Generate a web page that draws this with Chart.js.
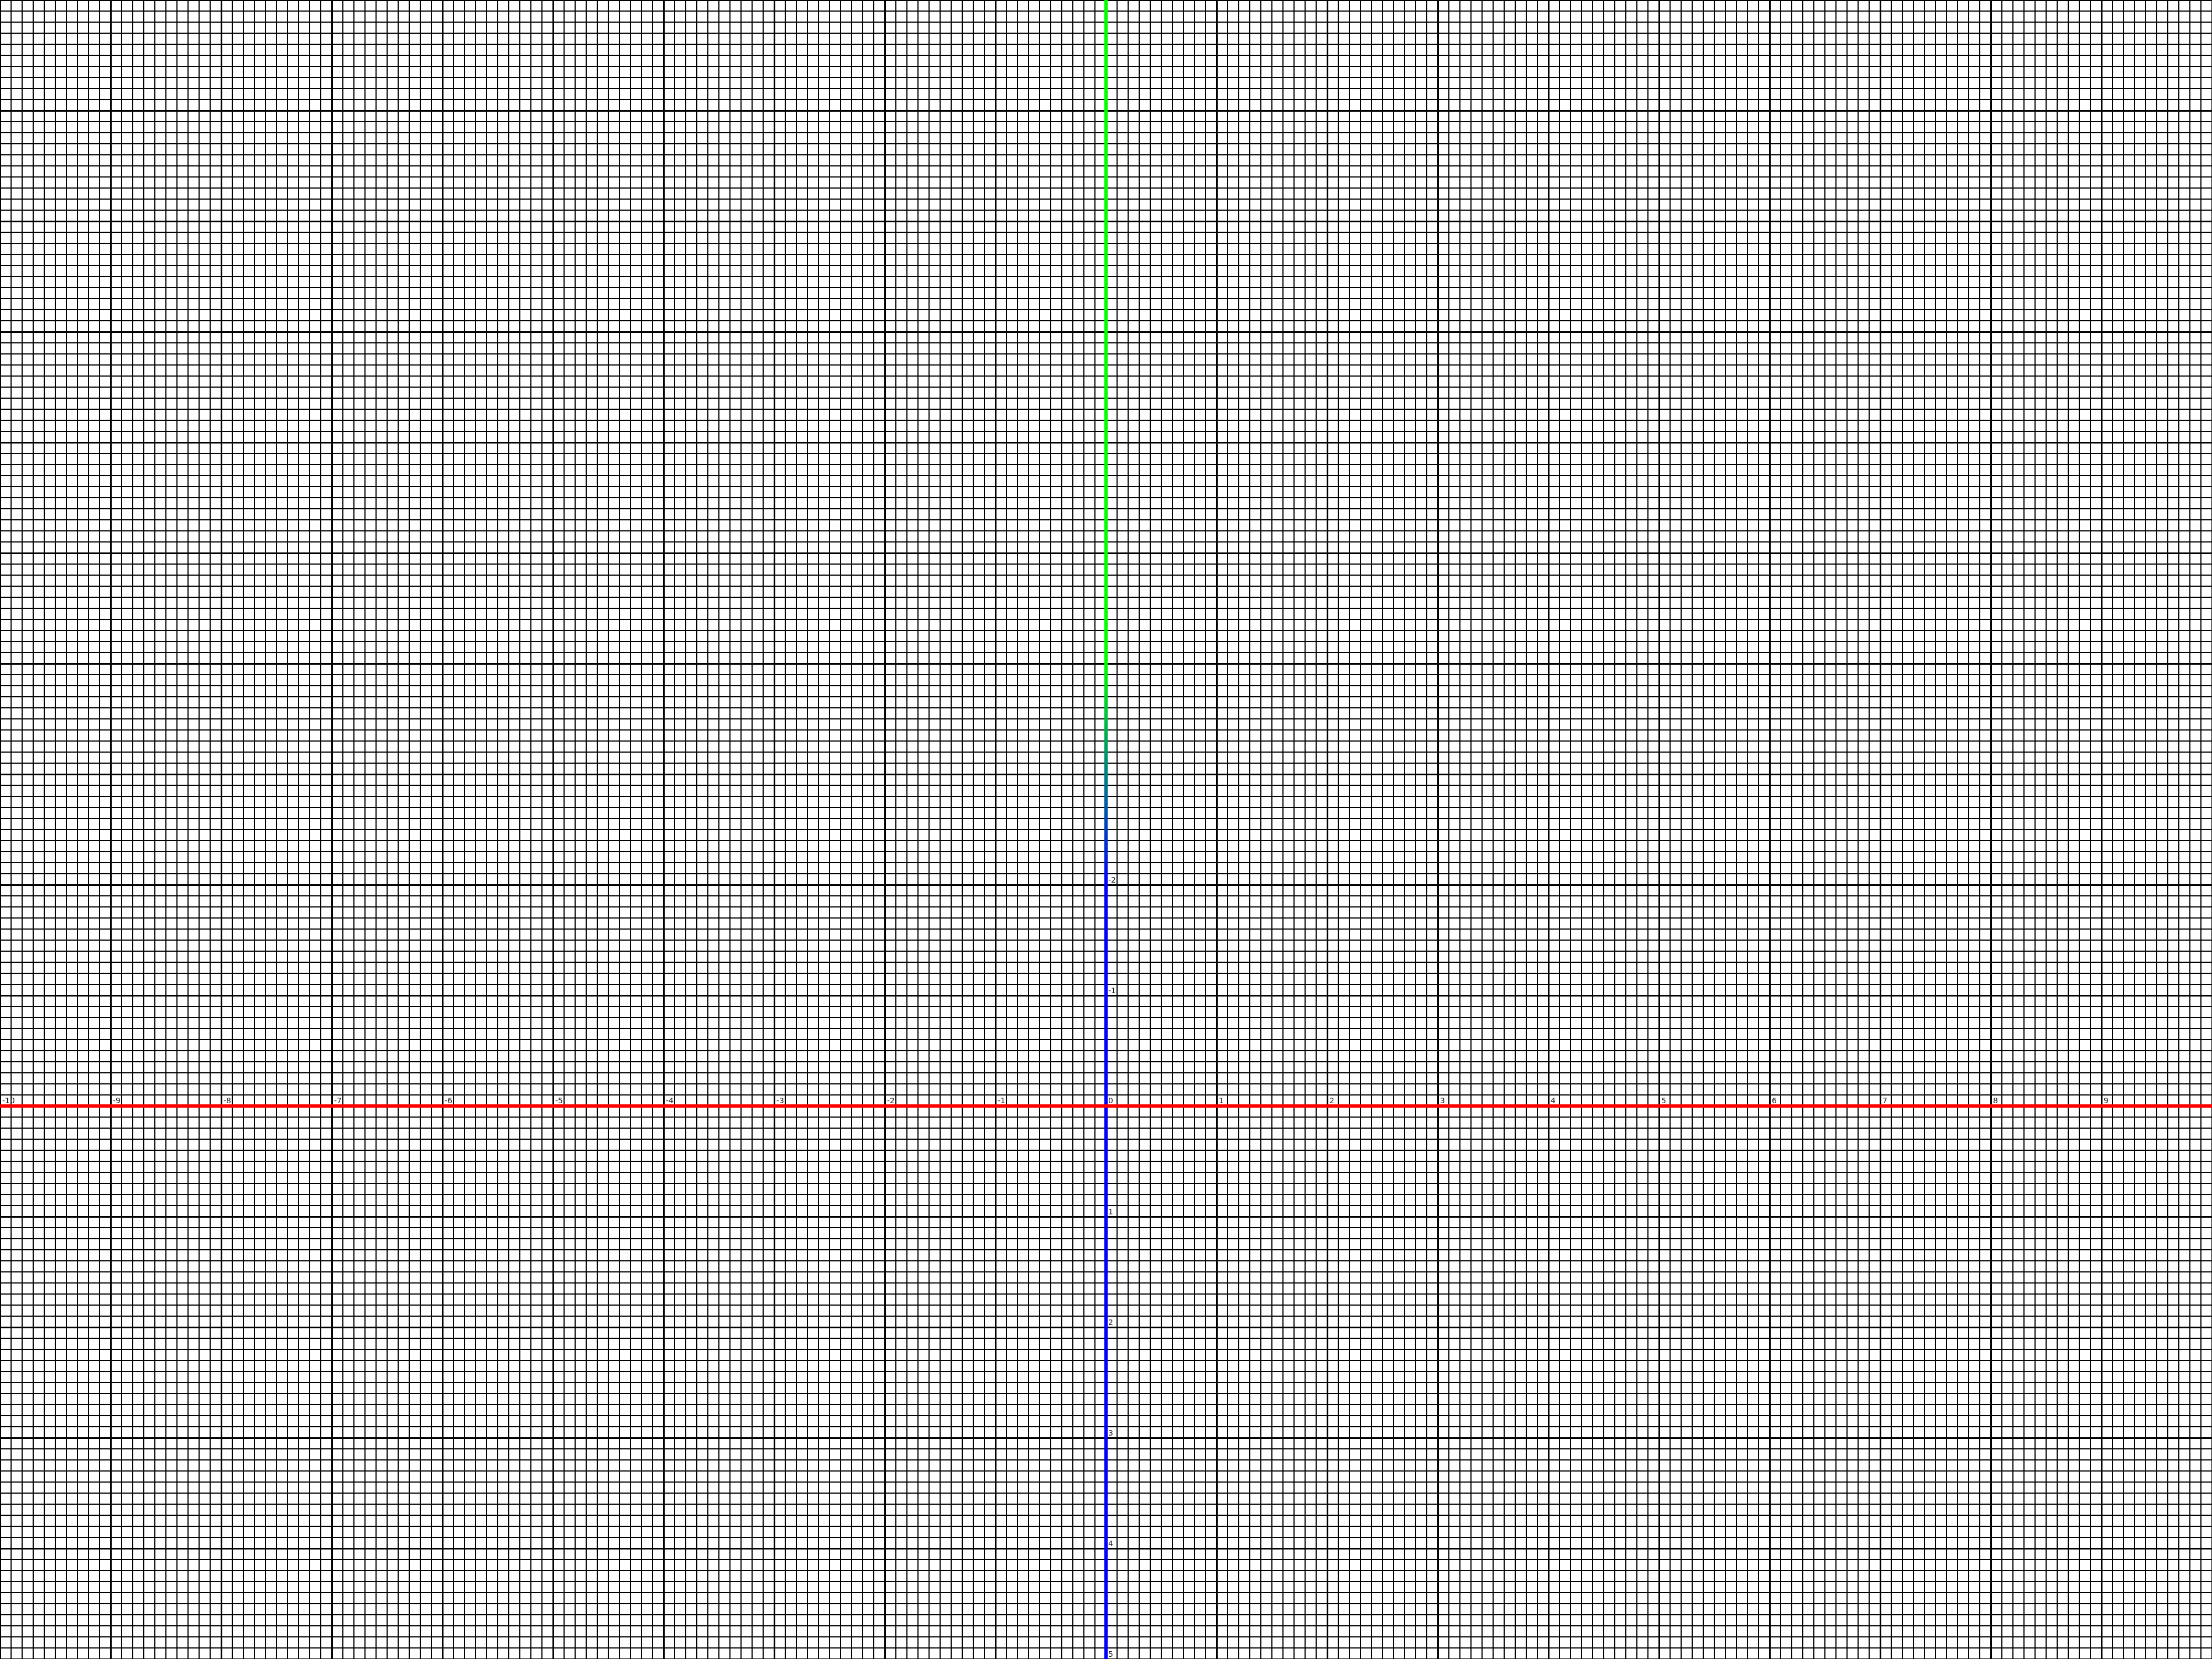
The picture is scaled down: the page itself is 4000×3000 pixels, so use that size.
<!DOCTYPE html>
<html>
<head>
<meta charset="utf-8">
<script src="https://cdn.jsdelivr.net/npm/chart.js@4/dist/chart.umd.min.js"></script>
<style>
    html, body { margin: 0; padding: 0; background: #fff; }
    canvas { display: block; }
</style>
</head>
<body>
<canvas id="gridChart" width="4000" height="3000"></canvas>
<script>
// ranges of the two axes (y runs downward, like screen coordinates)
const xRange = [-10, 10];
const yRange = [-10, 5];
const minorStep = 0.1;

// tick labels written along the axes
const xTickLabels = [-10, -9, -8, -7, -6, -5, -4, -3, -2, -1, 0, 1, 2, 3, 4, 5, 6, 7, 8, 9];
const yTickLabels = [-2, -1, 1, 2, 3, 4, 5];

// axis lines
const xAxisLineX = [xRange[0], xRange[1]];
const xAxisLineY = [0, 0];
const yAxisLineX = [0, 0];
const yAxisLineY = [yRange[0], yRange[1]];

// where the y axis fades from green to blue
const fadeFrom = -4;
const fadeTo = -2;

const isMajor = v => Math.abs(v - Math.round(v)) < 1e-6;

const axisLabels = {
    id: 'axisLabels',
    afterDatasetsDraw(chart) {
        const ctx = chart.ctx;
        const xs = chart.scales.x;
        const ys = chart.scales.y;
        const x0 = xs.getPixelForValue(0);
        const y0 = ys.getPixelForValue(0);
        ctx.save();
        ctx.font = '14px "DejaVu Sans"';
        ctx.fillStyle = '#1a1a1a';
        ctx.textAlign = 'left';
        ctx.textBaseline = 'alphabetic';
        xTickLabels.forEach(v => {
            ctx.fillText(String(v), xs.getPixelForValue(v) + 4, y0 - 5);
        });
        yTickLabels.forEach(v => {
            ctx.fillText(String(v), x0 + 4, ys.getPixelForValue(v) - 4);
        });
        ctx.restore();
    }
};

new Chart(document.getElementById('gridChart'), {
    type: 'scatter',
    data: {
        datasets: [
            {
                data: xAxisLineX.map((x, i) => ({ x: x, y: xAxisLineY[i] })),
                showLine: true,
                borderColor: '#ff0000',
                borderWidth: 6,
                pointRadius: 0
            },
            {
                data: yAxisLineX.map((x, i) => ({ x: x, y: yAxisLineY[i] })),
                showLine: true,
                borderColor: function (c) {
                    const chart = c.chart;
                    if (!chart.chartArea) return '#0000ff';
                    const ys = chart.scales.y;
                    const g = chart.ctx.createLinearGradient(0, ys.getPixelForValue(fadeFrom), 0, ys.getPixelForValue(fadeTo));
                    g.addColorStop(0, '#00ff00');
                    g.addColorStop(1, '#0000ff');
                    return g;
                },
                borderWidth: 6,
                pointRadius: 0
            }
        ]
    },
    options: {
        responsive: false,
        animation: false,
        devicePixelRatio: 1,
        layout: { padding: 0 },
        plugins: {
            legend: { display: false },
            tooltip: { enabled: false }
        },
        scales: {
            x: {
                type: 'linear',
                min: xRange[0],
                max: xRange[1],
                border: { display: false },
                ticks: { display: false, stepSize: minorStep, autoSkip: false },
                grid: {
                    drawTicks: false,
                    color: '#000',
                    lineWidth: c => isMajor(c.tick.value) ? 3 : 2
                }
            },
            y: {
                type: 'linear',
                reverse: true,
                min: yRange[0],
                max: yRange[1],
                border: { display: false },
                ticks: { display: false, stepSize: minorStep, autoSkip: false },
                grid: {
                    drawTicks: false,
                    color: '#000',
                    lineWidth: c => isMajor(c.tick.value) ? 3 : 2
                }
            }
        }
    },
    plugins: [axisLabels]
});
</script>
</body>
</html>
